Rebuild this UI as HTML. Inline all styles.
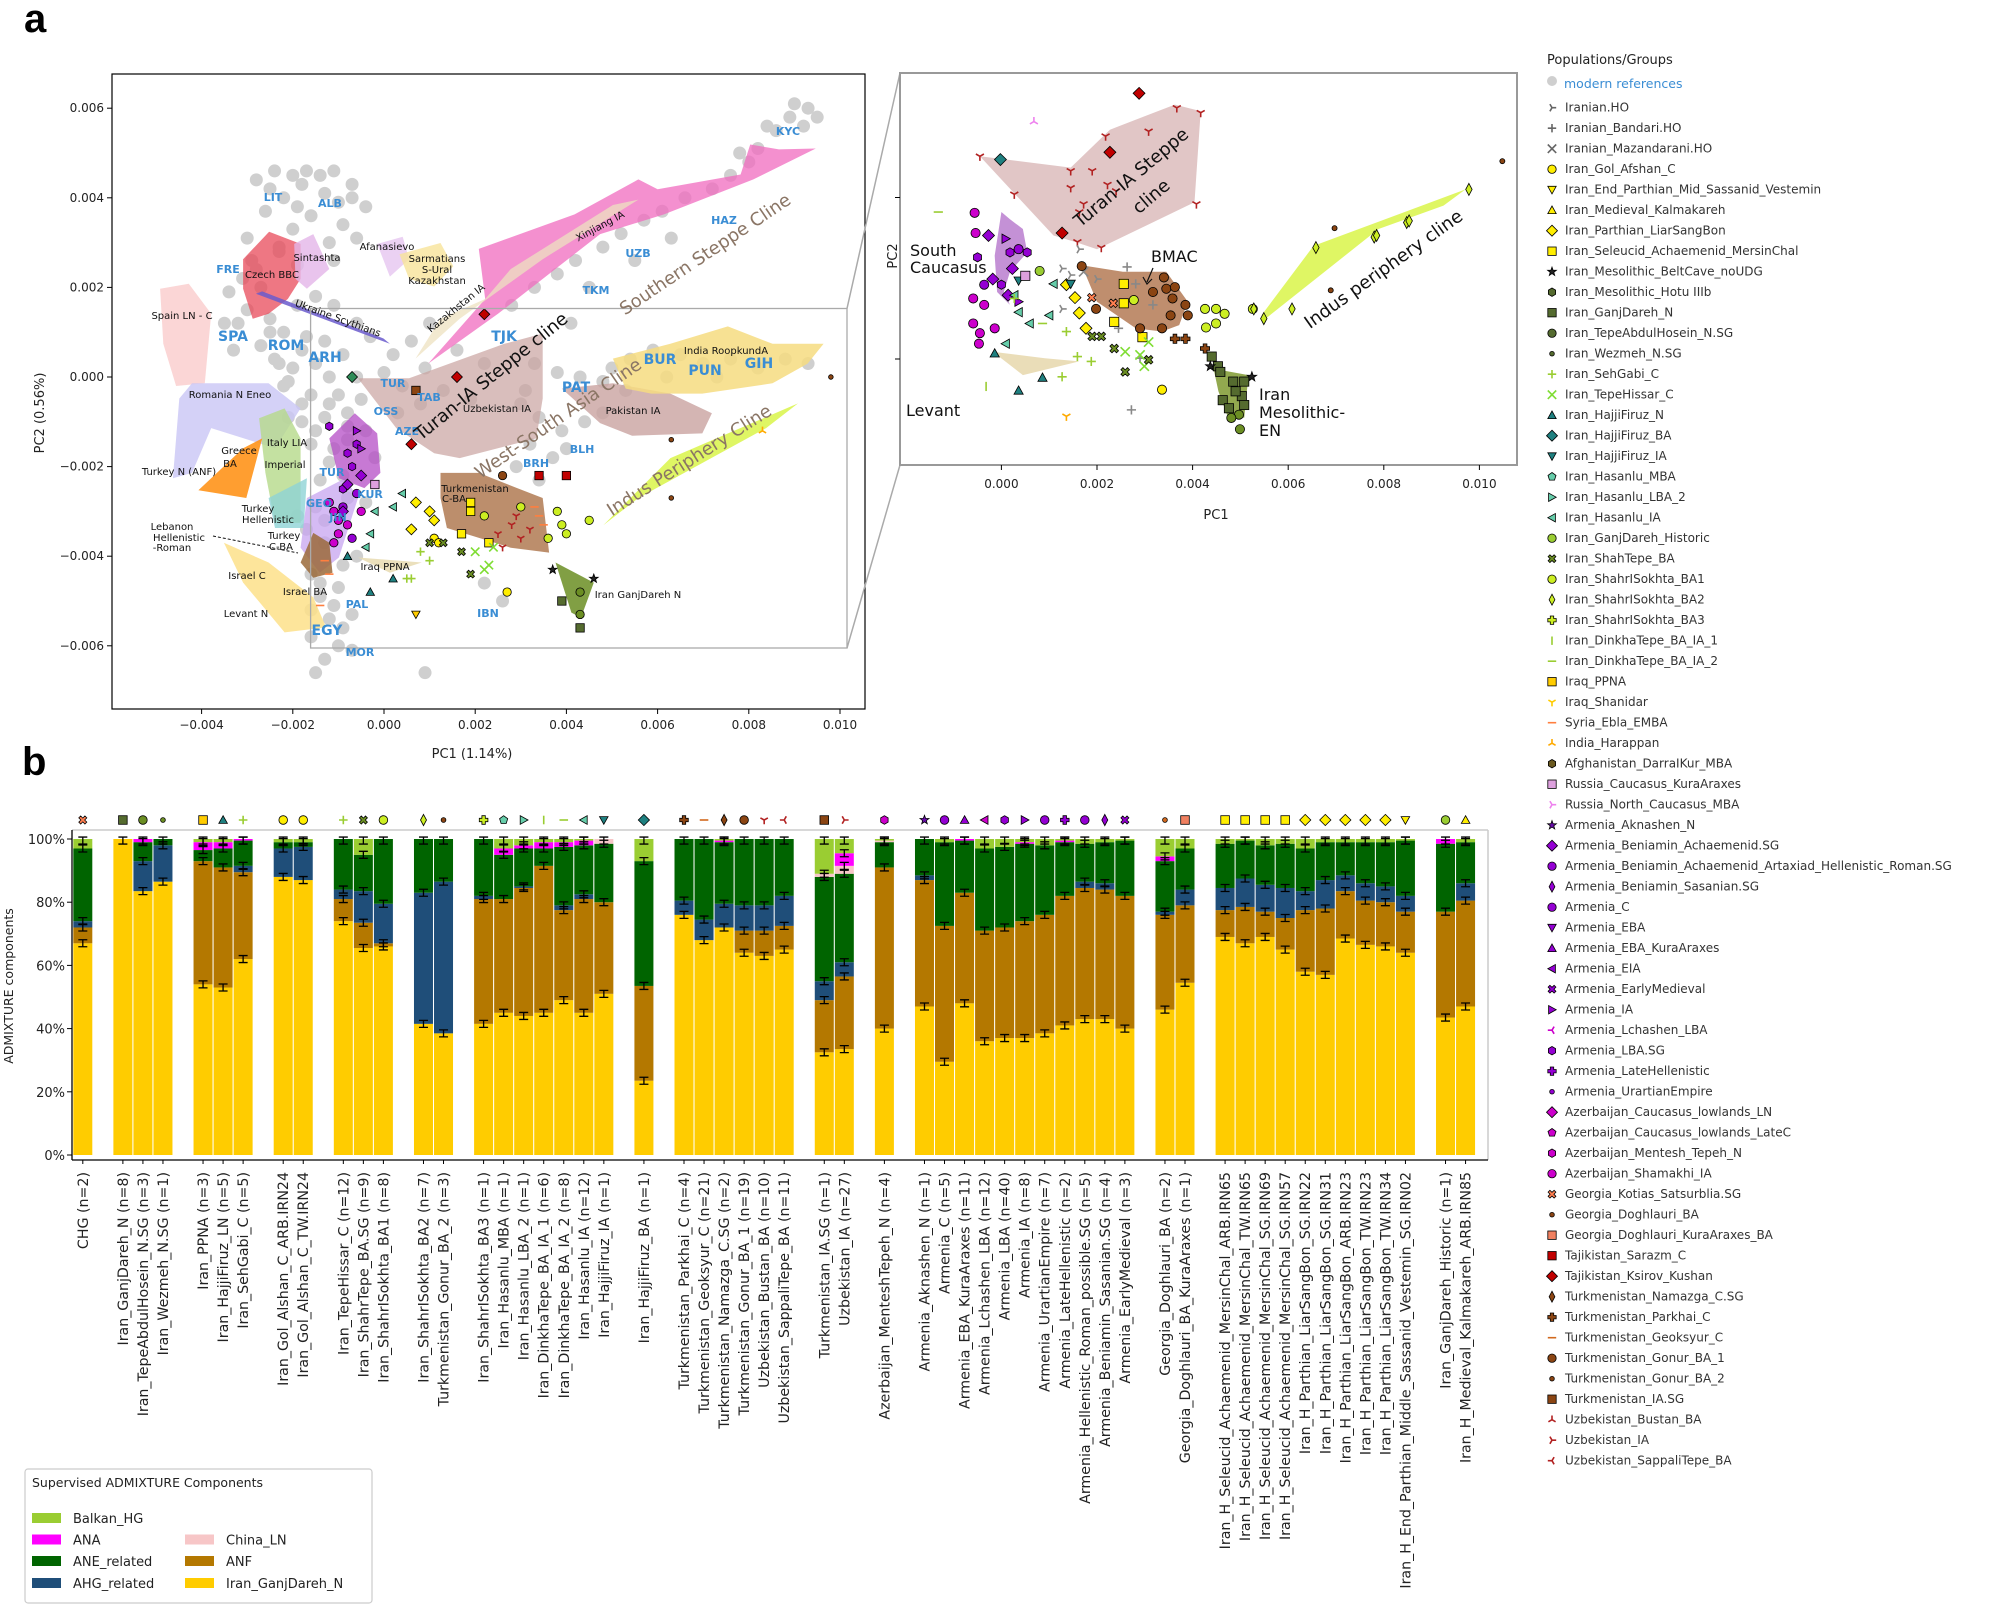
<!DOCTYPE html>
<html><head><meta charset="utf-8"><title>PCA and ADMIXTURE figure</title>
<style>
html,body{margin:0;padding:0;background:#fff;}
svg{display:block;font-family:"DejaVu Sans","Liberation Sans",sans-serif;}
</style></head>
<body>
<svg id="fig" width="2008" height="1607" viewBox="0 0 2008 1607" xmlns="http://www.w3.org/2000/svg">
<text x="24" y="32" font-size="40" font-weight="bold" font-family="Liberation Sans, sans-serif">a</text>
<text x="22" y="775" font-size="40" font-weight="bold" font-family="Liberation Sans, sans-serif">b</text>
<g id="pcaMain"></g>
<g id="pcaInset"></g>
<g id="legendRight"></g>
<g id="bars"></g>
<g id="legendBars"></g>
</svg>
<script>
// ===================== DATA =====================
const barLabels = ["CHG (n=2)","Iran_GanjDareh_N (n=8)","Iran_TepeAbdulHosein_N.SG (n=3)","Iran_Wezmeh_N.SG (n=1)","Iran_PPNA (n=3)","Iran_HajjiFiruz_LN (n=5)","Iran_SehGabi_C (n=5)","Iran_Gol_Alshan_C_ARB.IRN24","Iran_Gol_Alshan_C_TW.IRN24","Iran_TepeHissar_C (n=12)","Iran_ShahrTepe_BA.SG (n=9)","Iran_ShahrISokhta_BA1 (n=8)","Iran_ShahrISokhta_BA2 (n=7)","Turkmenistan_Gonur_BA_2 (n=3)","Iran_ShahrISokhta_BA3 (n=1)","Iran_Hasanlu_MBA (n=1)","Iran_Hasanlu_LBA_2 (n=1)","Iran_DinkhaTepe_BA_IA_1 (n=6)","Iran_DinkhaTepe_BA_IA_2 (n=8)","Iran_Hasanlu_IA (n=12)","Iran_HajjiFiruz_IA (n=1)","Iran_HajjiFiruz_BA (n=1)","Turkmenistan_Parkhai_C (n=4)","Turkmenistan_Geoksyur_C (n=21)","Turkmenistan_Namazga_C.SG (n=2)","Turkmenistan_Gonur_BA_1 (n=19)","Uzbekistan_Bustan_BA (n=10)","Uzbekistan_SappaliTepe_BA (n=11)","Turkmenistan_IA.SG (n=1)","Uzbekistan_IA (n=27)","Azerbaijan_MenteshTepeh_N (n=4)","Armenia_Aknashen_N (n=1)","Armenia_C (n=5)","Armenia_EBA_KuraAraxes (n=11)","Armenia_Lchashen_LBA (n=12)","Armenia_LBA (n=40)","Armenia_IA (n=8)","Armenia_UrartianEmpire (n=7)","Armenia_LateHellenistic (n=2)","Armenia_Hellenistic_Roman_possible.SG (n=5)","Armenia_Beniamin_Sasanian.SG (n=4)","Armenia_EarlyMedieval (n=3)","Georgia_Doghlauri_BA (n=2)","Georgia_Doghlauri_BA_KuraAraxes (n=1)","Iran_H_Seleucid_Achaemenid_MersinChal_ARB.IRN65","Iran_H_Seleucid_Achaemenid_MersinChal_TW.IRN65","Iran_H_Seleucid_Achaemenid_MersinChal_SG.IRN69","Iran_H_Seleucid_Achaemenid_MersinChal_SG.IRN57","Iran_H_Parthian_LiarSangBon_SG.IRN22","Iran_H_Parthian_LiarSangBon_SG.IRN31","Iran_H_Parthian_LiarSangBon_ARB.IRN23","Iran_H_Parthian_LiarSangBon_TW.IRN23","Iran_H_Parthian_LiarSangBon_TW.IRN34","Iran_H_End_Parthian_Middle_Sassanid_Vestemin_SG.IRN02","Iran_GanjDareh_Historic (n=1)","Iran_H_Medieval_Kalmakareh_ARB.IRN85"];
const groupSizes = [1,3,3,2,3,2,7,1,6,2,1,11,2,10,2];
const compGanj   = [67,100,83.5,86.5,54,53,62,88,87,74,65.5,66,41.5,38.5,41.5,45,44,45,49,45,51,23.5,76,68,72,64,63,65,32.5,33.5,40,47,29.5,48,36,37,37,38.5,41,43,43,40,46,54.5,69,67,69,65,58,57,68.5,66.5,66,64,43.5,47];
const compANF    = [5,0,0,0,39,38,27.5,0,0,7,8,1,0,0,39.5,36,40.5,46.5,28.5,36,29,30,0,0,0,7,8,7.5,16.5,23,51,40,43,35,35,35,37,37.5,41,41.5,41,42,30,24.5,8.5,11.5,8,10,19.5,21,15,14,14,13,33.5,33.5];
const compAHG    = [2,0,9.5,11.5,0,0,2,9,10.5,3,10,12.5,41.5,48,1,0,0.5,0,1.5,1.5,0,0,4.5,6.5,7.5,8,8,9.5,6,4.5,0,1.5,0,0,0,0,0,0,0,2,2,0,1,5,7,9,8.5,9.5,6,9,5,5.5,5,5,0,5.5];
const compANE    = [23,0,6,2,3.5,6,8,2,1.5,16,11.5,20.5,17,13.5,18,14,12,5.5,18.5,15.5,18.5,39.5,19.5,25.5,19.5,21,21,18,33,28,8,11.5,26.5,16.5,26,25.5,24.5,22,17,12,13,17.5,16,13,14,12,12.5,14,13.5,12,10.5,13,14,17.5,21.5,13];
const compChina  = [0,0,0,0,0,0,0,0,0,0,0,0,0,0,0,0,0,0,0,0,1.5,0,0,0,0,0,0,0,1,2.5,0.5,0,0,0,0,0,0,0,0,0,0,0,0,0,0,0,0,0,0,0,0,0,0,0,0,0];
const compANA    = [0,0,1,0,2.5,2,0.5,0,0,0,0,0,0,0,0,2,1,2,1.5,1.5,0,0,0,0,0.5,0,0,0,0,4,0,0,0,0.5,0,0,0.5,0,0.5,0,0,0,1.5,0,0,0,0,0,0,0,0,0,0,0,1.5,0];
const compBalkan = [3,0,0,0,1,1,0,1,1,0,5,0,0,0,0,3,2,1,1,0.5,0,7,0,0,0.5,0,0,0,11,4.5,0.5,0,1,0,3,2.5,1,2,0.5,1.5,1,0.5,5.5,3,1.5,0.5,2,1.5,3,1,1,1,1,0.5,0,1];
const barMarkerShape = ["X","s","o",".","s","^","+","o","o","+","X","o","d",".","P","p",">","|","_","<","v","D","P","_","d","o","1","3","s","4","h","*","o","^","<","h",">","o","P","o","d","X",".","s","s","s","s","s","D","D","D","D","D","v","o","^"];
const barMarkerColor = ["#ff7f50","#556b2f","#6b8e23","#6b8e23","#ffcc00","#1f8080","#9acd32","#ffee00","#ffee00","#9acd32","#6b8e23","#ccee22","#ccee22","#8b4513","#ccee22","#66cdaa","#66cdaa","#9acd32","#9acd32","#66cdaa","#1f8080","#1f8080","#8b4513","#d2691e","#8b4513","#8b4513","#b22222","#b22222","#8b4513","#b22222","#cc00cc","#6a0dad","#9400d3","#9400d3","#cc00cc","#9400d3","#9400d3","#9400d3","#9400d3","#9400d3","#9400d3","#9400d3","#d2691e","#f08060","#ffee00","#ffee00","#ffee00","#ffee00","#ffee00","#ffee00","#ffee00","#ffee00","#ffee00","#ffee00","#9acd32","#ffee00"];
const barTicks = [0,20,40,60,80,100];

const pcaXTicks = [-4,-2,0,2,4,6,8,10];
const pcaYTicks = [6,4,2,0,-2,-4,-6];
const modernPC1 = [-2.8,-2.5,-2.2,-1.8,-1.3,-1.0,-0.7,-2.6,-1.6,-0.9,-2.0,-1.2,-3.0,-2.9,-3.1,-2.7,-3.4,-3.0,-2.5,-2.2,-2.7,-2.4,-2.0,-1.8,-1.5,-1.2,-2.2,-1.6,-1.0,-1.3,-0.8,-0.5,-1.8,-1.6,-1.2,-0.8,-0.4,-0.2,-1.4,-0.9,-1.5,-1.7,-1.3,-0.9,-1.6,-1.4,-1.2,-1.6,-1.0,-1.3,-1.5,-0.7,-0.9,-1.1,0.9,0.2,0.6,1.0,0.4,0.9,1.6,2.2,0.8,1.3,-0.3,0.0,2.8,3.3,3.8,4.2,4.8,5.2,5.7,6.1,6.6,7.2,7.6,8.2,8.6,8.9,9.3,9.5,8.4,5.5,6.3,4.5,3.3,3.8,4.3,4.8,5.4,5.9,6.5,7.0,7.6,8.2,8.8,9.3,6.2,7.3,5.3,3.0,3.4,3.9,4.4,3.2,3.7,2.9,3.4,4.0,4.8,2.6,2.2,-3.5,-3.3,-2.3,-1.9,-2.1,-0.4,-0.6,-2.4,-2.0,-1.7,-1.4,-1.1,-0.7,-0.4,-2.3,-1.9,-1.1,-0.6,-1.9,-1.5,-1.1,-0.6,-1.7,-1.3,-0.9,-0.6,-1.8,-1.2,-0.8,-1.5,-1.1,-0.8,-1.3,-1.9,-2.5,-2.8,-3.2,-2.3,-1.4,-1.0,-0.7,-1.6,-2.1,7.8,8.0,9.0,9.2,4.1,5.0,3.1,0.3,1.9];
const modernPC2 = [4.4,4.2,4.0,4.3,4.1,3.9,4.3,3.7,3.6,3.4,3.3,3.0,3.1,2.6,2.2,2.0,1.9,1.5,1.3,1.0,0.7,0.4,0.2,0.6,0.3,0.0,-0.2,-0.4,-0.4,-0.9,-0.8,-0.5,-1.0,-1.5,-1.9,-1.4,-1.2,-1.8,-2.3,-2.2,-2.9,-3.4,-3.7,-4.2,-4.4,-4.9,-5.4,-5.8,-6.0,-6.3,-6.6,-6.1,-5.6,-5.1,-6.6,0.5,0.8,1.2,-0.2,0.2,0.6,0.3,-0.6,-0.3,0.9,0.1,1.6,2.0,2.3,2.6,2.9,3.2,3.5,3.7,4.0,4.2,4.5,5.1,5.5,5.8,6.0,5.8,5.6,2.6,3.1,2.0,0.3,0.1,0.0,-0.1,0.4,0.6,0.5,0.3,0.4,0.2,0.4,0.3,0.0,0.0,-0.3,-0.6,-0.9,-1.2,-1.0,-1.5,-1.8,-2.0,-2.3,-1.6,-0.8,-5.0,-4.6,1.2,0.6,2.9,3.8,-0.9,-2.8,-4.0,4.6,4.5,4.6,4.5,4.6,4.0,3.8,2.8,2.5,2.6,3.1,1.6,1.8,1.6,1.2,0.9,0.8,0.5,0.0,-0.6,-0.6,-1.1,-1.2,-1.6,-2.7,-3.2,-3.1,1.0,2.4,1.2,0.3,-4.6,-4.7,-5.3,-5.2,-0.1,5.0,4.8,6.1,5.6,1.2,0.2,-0.3,-0.8,-0.5];
const ancientPC1 = [-1.2,-1.1,-1.0,-0.9,-0.8,-1.0,-0.7,-1.1,-0.6,-0.5,-0.9,-0.7,-0.6,-0.8,-1.2,-0.8,-0.5,-0.9,-0.6,-0.5,0.4,0.2,-0.3,-0.2,-0.4,-0.8,0.2,-0.3,0.7,1.0,1.1,0.6,1.1,1.2,2.2,3.0,3.8,3.9,4.0,3.6,4.5,2.7,1.9,1.9,1.7,2.3,2.0,2.3,2.4,2.2,1.0,1.3,1.7,1.9,0.8,1.0,0.5,0.6,2.5,2.8,3.0,3.2,2.9,2.6,3.3,3.4,3.5,-1.3,-1.2,-1.4,3.4,4.0,2.2,1.6,0.6,-0.7,0.7,2.6,4.3,3.9,4.3,4.3,3.7,4.6,-0.2,9.8,6.3,6.3,8.3,0.7];
const ancientPC2 = [-2.8,-3.0,-3.2,-2.9,-3.3,-3.5,-3.6,-3.7,-2.6,-3.0,-2.5,-2.0,-1.5,-1.7,-1.1,-2.4,-2.2,-3.0,-1.2,-1.6,-2.6,-2.9,-3.5,-3.0,-3.8,-4.0,-4.5,-4.8,-2.8,-3.0,-3.2,-3.4,-3.6,-3.7,-3.1,-2.9,-3.0,-3.3,-3.5,-3.6,-3.2,-4.8,-3.0,-2.8,-3.5,-3.7,-3.9,-4.2,-3.8,-4.3,-3.7,-3.7,-3.9,-4.4,-3.9,-4.1,-4.5,-4.5,-3.5,-3.3,-3.6,-3.4,-3.1,-3.8,-2.9,-3.1,-3.3,-4.1,-4.4,-5.1,-2.2,-2.2,1.4,0.0,-1.5,0.0,-0.3,-2.2,-4.8,-5.0,-5.3,-5.6,-4.3,-4.5,-2.4,0.0,-1.4,-2.7,-1.2,-5.3];
const ancientShape = ["o","o","o","o","o","o","o","o","o","o","h","h","h","h","h","D","D","D",">",">","<","<","<","<","<","^","^","^","D","D","D","D","o","o","o","o","o","o","o","o","o","o","s","s","s","s","x","x","x","x","X","X","X","X","+","+","+","+","1","1","1","1","1","1","_","_","_","_","_","_","s","s","D","D","D","D","s","o","o","s","o","s","*","*","s",".",".",".","2","v"];
const ancientColor = ["#cc00cc","#cc00cc","#cc00cc","#9400d3","#cc00cc","#cc00cc","#9400d3","#cc00cc","#9400d3","#cc00cc","#9400d3","#9400d3","#9400d3","#9400d3","#9400d3","#9400d3","#9400d3","#9400d3","#9400d3","#9400d3","#66cdaa","#66cdaa","#66cdaa","#66cdaa","#66cdaa","#1f8080","#1f8080","#1f8080","#ffee00","#ffee00","#ffee00","#ffee00","#ffee00","#ffee00","#ccee22","#ccee22","#ccee22","#ccee22","#ccee22","#ccee22","#ccee22","#ffee00","#ffee00","#ffee00","#ffee00","#ffee00","#7fdd33","#7fdd33","#7fdd33","#7fdd33","#6b8e23","#6b8e23","#6b8e23","#6b8e23","#9acd32","#9acd32","#9acd32","#9acd32","#b22222","#b22222","#b22222","#b22222","#b22222","#b22222","#ff7f3f","#ff7f3f","#ff7f3f","#ff7f3f","#ff7f3f","#ff7f3f","#c00000","#c00000","#c00000","#c00000","#c00000","#2e8b57","#8b4513","#8b4513","#6b8e23","#556b2f","#6b8e23","#556b2f","#222","#222","#dda0dd","#8b4513","#8b4513","#8b4513","#ffaa00","#ffcc00"];

const insetXTicks = [0,2,4,6,8,10];
const insetYTicks = [0,-2];
const insetPC1 = [1.45,1.9,2.18,3.08,1.45,1.72,2.22,2.40,1.63,2.09,1.59,-0.45,0.27,3.67,4.17,4.08,2.88,2.27,1.27,-0.02,-0.56,-0.54,-0.50,-0.59,-0.45,-0.47,-0.14,-0.27,0.09,0.18,0.36,0.54,0.23,-0.18,-0.59,-0.36,0.14,0.36,0,-0.36,0.27,0.36,0.59,0.09,1.09,1.0,-0.14,0.86,0.36,0.36,1.63,1.27,1.45,1.72,2.0,2.63,2.81,3.17,1.27,2.9,2.72,2.45,1.36,1.54,1.63,1.77,2.56,2.56,2.36,2.95,4.26,4.49,4.67,4.28,4.49,5.26,3.36,2.77,1.68,1.98,3.4,3.45,3.58,3.54,3.85,3.9,3.36,2.9,3.17,3.63,3.63,3.85,4.26,4.4,4.53,4.58,4.85,5.08,5.03,5.08,4.63,4.76,4.9,4.99,4.97,4.81,5.24,4.37,6.58,7.8,7.85,8.48,8.53,9.78,6.08,5.49,5.28,2.59,2.99,2.9,3.08,1.9,2.09,2.36,2.59,3.08,1.36,1.59,1.88,1.27,0.27,10.48,6.97,6.89,1.36,-1.32,-0.32,0.86,0.5,0.8,0.68,1.89,2.34,1.45];
const insetPC2 = [0.33,0.33,0.76,0.82,0.12,-0.08,0.16,0.08,-0.18,-0.62,-0.55,0.51,0.04,1.11,1.05,-0.08,1.29,0.56,-0.44,0.47,-0.19,-0.44,-0.74,-1.56,-1.68,-1.81,-1.62,-0.47,-0.51,-0.68,-0.64,-0.68,-0.88,-1.01,-1.25,-1.33,-1.21,-1.29,-1.08,-1.08,-1.21,-1.42,-1.56,-1.81,-1.07,-1.46,-1.93,-2.23,-2.39,-1.03,-0.64,-0.88,-0.96,-0.92,-1.01,-0.86,-1.07,-1.33,-1.38,-1.99,-2.63,-1.62,-1.08,-1.24,-1.43,-1.62,-1.07,-1.31,-1.54,-1.73,-1.38,-1.38,-1.44,-1.61,-1.56,-1.38,-2.38,-1.27,-0.85,-1.38,-0.99,-1.13,-1.25,-1.46,-1.33,-1.46,-1.62,-1.62,-1.17,-1.11,-1.75,-1.75,-1.87,-1.97,-2.09,-2.16,-2.28,-2.28,-2.46,-2.57,-2.51,-2.61,-2.40,-2.87,-2.69,-2.73,-2.22,-2.09,-0.62,-0.49,-0.47,-0.31,-0.29,0.1,-1.38,-1.5,-1.38,-1.91,-2.09,-1.95,-1.79,-1.72,-1.72,-1.87,-2.16,-2.01,-1.66,-1.97,-2.03,-2.22,-1.25,0.45,-0.38,-1.15,-2.71,-0.18,-2.34,-1.56,-0.97,-0.91,0.94,-1.24,-1.31,-1.07];
const insetShape = ["1","1","1","1","1","1","1","1","1","1","1","1","1","1","1","1","D","D","D","D","o","o","h","o","o","o","o","D",">","h","o","h","D","D","o","o","D",">","h","o","<","<","<","<","<","<","^","^","^","v","4","4","4","x","4","+","+","+","4","+","+","+","D","D","D","D","s","s","s","s","o","o","o","o","o","o","o","o","o","o","o","o","o","o","o","o","o","o","o","o","P","P","P","s","s","s","s","s","s","s","s","s","s","o","o","o","*","*","d","d","d","d","d","d","d","d","d","x","x","x","x","X","X","X","X","X","+","+","+","+","+",".",".",".","1","_","|","_","s","o","2","X","X","v"];
const insetColor = ["#b22222","#b22222","#b22222","#b22222","#b22222","#b22222","#b22222","#b22222","#b22222","#b22222","#b22222","#b22222","#b22222","#b22222","#b22222","#b22222","#c00000","#c00000","#c00000","#1f8080","#cc00cc","#cc00cc","#9400d3","#cc00cc","#cc00cc","#cc00cc","#cc00cc","#9400d3","#9400d3","#9400d3","#9400d3","#9400d3","#9400d3","#9400d3","#cc00cc","#cc00cc","#9400d3","#9400d3","#9400d3","#9400d3","#66cdaa","#66cdaa","#66cdaa","#66cdaa","#66cdaa","#66cdaa","#1f8080","#1f8080","#1f8080","#1f8080","#888","#888","#888","#888","#888","#888","#888","#888","#888","#888","#888","#888","#ffee00","#ffee00","#ffee00","#ffee00","#ffee00","#ffee00","#ffee00","#ffee00","#ccee22","#ccee22","#ccee22","#ccee22","#ccee22","#ccee22","#ffee00","#ccee22","#8b4513","#8b4513","#8b4513","#8b4513","#8b4513","#8b4513","#8b4513","#8b4513","#8b4513","#8b4513","#8b4513","#8b4513","#8b4513","#8b4513","#8b4513","#556b2f","#556b2f","#556b2f","#556b2f","#556b2f","#556b2f","#556b2f","#556b2f","#556b2f","#556b2f","#6b8e23","#6b8e23","#6b8e23","#222","#222","#ccee22","#ccee22","#ccee22","#ccee22","#ccee22","#ccee22","#ccee22","#ccee22","#ccee22","#7fdd33","#7fdd33","#7fdd33","#7fdd33","#6b8e23","#6b8e23","#6b8e23","#6b8e23","#6b8e23","#9acd32","#9acd32","#9acd32","#9acd32","#9acd32","#8b4513","#8b4513","#8b4513","#ffaa00","#9acd32","#9acd32","#9acd32","#dda0dd","#9acd32","#ee82ee","#ff7f50","#ff7f50","#1f8080"];

const popNames = ["Iranian.HO","Iranian_Bandari.HO","Iranian_Mazandarani.HO","Iran_Gol_Afshan_C","Iran_End_Parthian_Mid_Sassanid_Vestemin","Iran_Medieval_Kalmakareh","Iran_Parthian_LiarSangBon","Iran_Seleucid_Achaemenid_MersinChal","Iran_Mesolithic_BeltCave_noUDG","Iran_Mesolithic_Hotu IIIb","Iran_GanjDareh_N","Iran_TepeAbdulHosein_N.SG","Iran_Wezmeh_N.SG","Iran_SehGabi_C","Iran_TepeHissar_C","Iran_HajjiFiruz_N","Iran_HajjiFiruz_BA","Iran_HajjiFiruz_IA","Iran_Hasanlu_MBA","Iran_Hasanlu_LBA_2","Iran_Hasanlu_IA","Iran_GanjDareh_Historic","Iran_ShahTepe_BA","Iran_ShahrISokhta_BA1","Iran_ShahrISokhta_BA2","Iran_ShahrISokhta_BA3","Iran_DinkhaTepe_BA_IA_1","Iran_DinkhaTepe_BA_IA_2","Iraq_PPNA","Iraq_Shanidar","Syria_Ebla_EMBA","India_Harappan","Afghanistan_DarraIKur_MBA","Russia_Caucasus_KuraAraxes","Russia_North_Caucasus_MBA","Armenia_Aknashen_N","Armenia_Beniamin_Achaemenid.SG","Armenia_Beniamin_Achaemenid_Artaxiad_Hellenistic_Roman.SG","Armenia_Beniamin_Sasanian.SG","Armenia_C","Armenia_EBA","Armenia_EBA_KuraAraxes","Armenia_EIA","Armenia_EarlyMedieval","Armenia_IA","Armenia_Lchashen_LBA","Armenia_LBA.SG","Armenia_LateHellenistic","Armenia_UrartianEmpire","Azerbaijan_Caucasus_lowlands_LN","Azerbaijan_Caucasus_lowlands_LateC","Azerbaijan_Mentesh_Tepeh_N","Azerbaijan_Shamakhi_IA","Georgia_Kotias_Satsurblia.SG","Georgia_Doghlauri_BA","Georgia_Doghlauri_KuraAraxes_BA","Tajikistan_Sarazm_C","Tajikistan_Ksirov_Kushan","Turkmenistan_Namazga_C.SG","Turkmenistan_Parkhai_C","Turkmenistan_Geoksyur_C","Turkmenistan_Gonur_BA_1","Turkmenistan_Gonur_BA_2","Turkmenistan_IA.SG","Uzbekistan_Bustan_BA","Uzbekistan_IA","Uzbekistan_SappaliTepe_BA"];
const popShape = ["4","+","x","o","v","^","D","s","*","h","s","o",".","+","x","^","D","v","p",">","<","o","X","o","d","P","|","_","s","1","_","2","h","s","4","*","D","o","d","o","v","^","<","X",">","3","h","P",".","D","p","h","o","X",".","s","s","D","d","P","_","o",".","s","2","4","3"];
const popColor = ["#666","#666","#666","#ffee00","#ffee00","#ffee00","#ffee00","#ffee00","#222","#556b2f","#556b2f","#556b2f","#556b2f","#9acd32","#7fdd33","#1f8080","#1f8080","#1f8080","#66cdaa","#66cdaa","#66cdaa","#9acd32","#6b8e23","#ccee22","#ccee22","#ccee22","#9acd32","#9acd32","#ffcc00","#ffcc00","#ff7f3f","#ffaa00","#6b5a20","#dda0dd","#ee82ee","#6a0dad","#9400d3","#9400d3","#9400d3","#9400d3","#9400d3","#9400d3","#9400d3","#9400d3","#9400d3","#cc00cc","#9400d3","#9400d3","#9400d3","#cc00cc","#cc00cc","#cc00cc","#cc00cc","#ff7f50","#8b4513","#f08060","#c00000","#c00000","#8b4513","#8b4513","#d2691e","#8b4513","#8b4513","#8b4513","#b22222","#b22222","#b22222"];

// ===================== HELPERS =====================
const NS = "http://www.w3.org/2000/svg";
function E(tag, attrs, parent){const el=document.createElementNS(NS,tag);for(const k in attrs)el.setAttribute(k,attrs[k]);if(parent)parent.appendChild(el);return el;}
function T(parent, x, y, str, attrs){const t=E("text",Object.assign({x:x,y:y},attrs||{}),parent);t.textContent=str;return t;}
function poly(pts){return pts.map(p=>p[0].toFixed(1)+","+p[1].toFixed(1)).join(" ");}
function marker(parent, shape, cx, cy, s, fill){
  const st={stroke:"#000","stroke-width":0.8,fill:fill};
  let el;
  const ln={stroke:fill,"stroke-width":1.6,fill:"none"};
  switch(shape){
    case "o": el=E("circle",Object.assign({cx:cx,cy:cy,r:s},st),parent);break;
    case ".": el=E("circle",Object.assign({cx:cx,cy:cy,r:s*0.55},st),parent);break;
    case "s": el=E("rect",Object.assign({x:cx-s,y:cy-s,width:2*s,height:2*s},st),parent);break;
    case "D": el=E("polygon",Object.assign({points:poly([[cx,cy-s*1.3],[cx+s*1.3,cy],[cx,cy+s*1.3],[cx-s*1.3,cy]])},st),parent);break;
    case "d": el=E("polygon",Object.assign({points:poly([[cx,cy-s*1.3],[cx+s*0.7,cy],[cx,cy+s*1.3],[cx-s*0.7,cy]])},st),parent);break;
    case "^": el=E("polygon",Object.assign({points:poly([[cx,cy-s],[cx+s,cy+s*0.8],[cx-s,cy+s*0.8]])},st),parent);break;
    case "v": el=E("polygon",Object.assign({points:poly([[cx,cy+s],[cx+s,cy-s*0.8],[cx-s,cy-s*0.8]])},st),parent);break;
    case "<": el=E("polygon",Object.assign({points:poly([[cx-s,cy],[cx+s*0.8,cy-s],[cx+s*0.8,cy+s]])},st),parent);break;
    case ">": el=E("polygon",Object.assign({points:poly([[cx+s,cy],[cx-s*0.8,cy-s],[cx-s*0.8,cy+s]])},st),parent);break;
    case "h": {const p=[];for(let i=0;i<6;i++){const a=Math.PI/6+i*Math.PI/3;p.push([cx+s*Math.cos(a),cy+s*Math.sin(a)]);}el=E("polygon",Object.assign({points:poly(p)},st),parent);break;}
    case "p": {const p=[];for(let i=0;i<5;i++){const a=-Math.PI/2+i*2*Math.PI/5;p.push([cx+s*Math.cos(a),cy+s*Math.sin(a)]);}el=E("polygon",Object.assign({points:poly(p)},st),parent);break;}
    case "*": {const p=[];for(let i=0;i<10;i++){const a=-Math.PI/2+i*Math.PI/5;const r=i%2?s*0.45:s*1.1;p.push([cx+r*Math.cos(a),cy+r*Math.sin(a)]);}el=E("polygon",Object.assign({points:poly(p)},st),parent);break;}
    case "P": {const a=s*0.4,b=s;el=E("polygon",Object.assign({points:poly([[cx-a,cy-b],[cx+a,cy-b],[cx+a,cy-a],[cx+b,cy-a],[cx+b,cy+a],[cx+a,cy+a],[cx+a,cy+b],[cx-a,cy+b],[cx-a,cy+a],[cx-b,cy+a],[cx-b,cy-a],[cx-a,cy-a]])},st),parent);break;}
    case "X": {const p=[];const r1=s*1.05,r2=s*0.45;for(let i=0;i<4;i++){const a=Math.PI/4+i*Math.PI/2;p.push([cx+r1*Math.cos(a-0.3),cy+r1*Math.sin(a-0.3)]);p.push([cx+r1*Math.cos(a+0.3),cy+r1*Math.sin(a+0.3)]);const b=a+Math.PI/4;p.push([cx+r2*Math.cos(b),cy+r2*Math.sin(b)]);}el=E("polygon",Object.assign({points:poly(p)},st),parent);break;}
    case "+": el=E("path",Object.assign({d:`M${cx-s},${cy}H${cx+s}M${cx},${cy-s}V${cy+s}`},ln),parent);break;
    case "x": el=E("path",Object.assign({d:`M${cx-s},${cy-s}L${cx+s},${cy+s}M${cx-s},${cy+s}L${cx+s},${cy-s}`},ln),parent);break;
    case "|": el=E("path",Object.assign({d:`M${cx},${cy-s}V${cy+s}`},ln),parent);break;
    case "_": el=E("path",Object.assign({d:`M${cx-s},${cy}H${cx+s}`},ln),parent);break;
    default: {const rot={"1":0,"2":180,"3":90,"4":270}[shape]||0;let d="";for(let i=0;i<3;i++){const a=(rot+90+i*120)*Math.PI/180;d+=`M${cx},${cy}L${(cx+s*Math.cos(a)).toFixed(1)},${(cy+s*Math.sin(a)).toFixed(1)}`;}el=E("path",Object.assign({d:d},ln),parent);}
  }
  return el;
}

// ===================== PANEL A: MAIN PCA =====================
const gA = document.getElementById("pcaMain");
const xA = v => 384 + v*45.6;
const yA = v => 377 - v*44.8;
const A = (a,b)=>[xA(a),yA(b)];
let el;
for(let i=0;i<modernPC1.length;i++){
  el=E("circle",{cx:xA(modernPC1[i]),cy:yA(modernPC2[i]),r:6.5,fill:"#cfcfcf"},gA);
  
  
}
const polysA = [
 ["steppe-xinjiang-polygon","#f06bbf",0.75,[[0.97,0.30],[2.22,1.74],[2.08,2.86],[4.18,3.63],[5.58,4.41],[6.0,4.19],[7.82,4.52],[8.03,5.19],[8.66,5.08],[9.47,5.1],[8.1,4.41],[6.14,3.63],[4.74,3.19],[2.5,1.41]]],
 ["kazakhstan-ia-polygon","#eee2c0",0.75,[[0.69,0.41],[1.24,1.3],[2.22,1.74],[2.78,2.41],[5.02,3.84],[5.58,3.96],[3.48,2.63],[1.66,1.3]]],
 ["spain-polygon","#f9c8c8",0.75,[[-4.91,1.97],[-4.28,2.08],[-3.79,1.41],[-3.93,-0.14],[-4.56,-0.2],[-4.84,0.74]]],
 ["czech-bbc-polygon","#e84a5a",0.75,[[-3.09,2.63],[-2.52,3.24],[-1.83,2.97],[-1.83,2.19],[-2.11,1.74],[-2.53,1.41],[-2.88,1.30],[-3.09,1.97]]],
 ["sintashta-polygon","#e4b5e8",0.8,[[-1.97,2.97],[-1.55,3.19],[-1.2,2.41],[-1.69,1.97],[-1.94,2.19]]],
 ["afanasievo-polygon","#e6c5f0",0.8,[[-0.15,2.97],[0.41,3.13],[0.55,2.63],[0.13,2.24]]],
 ["sarmatians-polygon","#f8e39a",0.8,[[0.34,2.74],[1.24,2.99],[1.52,2.47],[1.10,2.02],[0.55,2.19]]],
 ["ukraine-scythians-polygon","#6a5acd",0.85,[[-2.81,1.86],[0.13,0.74],[-0.01,0.86],[-2.67,1.91]]],
 ["romania-polygon","#c9c5f5",0.8,[[-4.49,-0.48],[-4.21,-0.14],[-2.53,-0.14],[-1.83,-0.7],[-2.39,-1.59],[-3.79,-1.14],[-4.21,-2.14],[-4.63,-2.26]]],
 ["italy-lia-polygon","#b5d98a",0.8,[[-2.74,-0.92],[-2.18,-0.7],[-1.83,-1.37],[-1.83,-3.26],[-2.39,-3.26],[-2.6,-2.14]]],
 ["turkey-n-polygon","#ff9419",0.9,[[-4.07,-2.53],[-3.09,-1.59],[-2.67,-1.37],[-3.02,-2.7]]],
 ["turkey-hellenistic-polygon","#8fd3d6",0.8,[[-2.53,-2.7],[-1.69,-2.26],[-1.76,-3.37],[-2.39,-3.37]]],
 ["armenia-purple-polygon","#c7a4f0",0.75,[[-1.69,-2.7],[-0.85,-2.26],[-0.57,-2.7],[-0.99,-4.03],[-1.41,-4.37],[-1.83,-3.81]]],
 ["armenia-magenta-polygon","#b44cc6",0.75,[[-1.2,-1.37],[-0.64,-0.81],[-0.15,-1.26],[-0.08,-2.14],[-0.43,-2.48],[-0.99,-2.26]]],
 ["israel-polygon","#fde08a",0.85,[[-3.51,-3.7],[-2.53,-4.14],[-1.55,-4.92],[-1.27,-5.59],[-2.18,-5.7],[-3.09,-4.59]]],
 ["lebanon-polygon","#9b6a3a",0.85,[[-1.83,-4.14],[-1.55,-3.48],[-1.2,-3.7],[-1.13,-4.37],[-1.55,-4.48]]],
 ["turan-steppe-polygon","#c9a3a0",0.7,[[-0.57,-0.03],[0.55,-0.03],[2.64,0.74],[3.48,0.97],[3.48,-0.48],[3.34,-1.37],[1.66,-1.81],[1.1,-1.7],[0.27,-1.14]]],
 ["pakistan-polygon","#c9a3a0",0.8,[[3.9,-0.26],[5.02,-0.14],[6.28,-0.37],[7.19,-0.81],[6.98,-1.26],[5.44,-1.31],[4.74,-1.03]]],
 ["india-polygon","#f6dc80",0.85,[[5.02,0.41],[6.28,0.74],[7.54,1.13],[8.52,0.74],[9.64,0.74],[9.29,0.3],[8.52,-0.14],[6.98,-0.37],[5.86,-0.37],[5.3,-0.26]]],
 ["indus-periphery-polygon","#dcf553",0.9,[[4.81,-3.31],[6.28,-1.81],[9.08,-0.59],[8.38,-1.14],[5.58,-2.7],[5.02,-3.14]]],
 ["turkmenistan-c-ba-polygon","#b07a52",0.85,[[1.24,-2.14],[2.08,-2.14],[2.92,-2.48],[3.48,-2.7],[3.62,-3.92],[2.78,-3.81],[1.38,-3.37],[1.24,-2.7]]],
 ["iraq-ppna-polygon","#e8dbb0",0.85,[[-0.57,-4.03],[0.83,-4.14],[0.13,-4.37]]],
 ["ganjdareh-polygon","#6b8e23",0.85,[[3.76,-4.14],[4.6,-4.59],[4.32,-5.37],[4.11,-5.26]]]
];
for(const p of polysA){
  el=E("polygon",{points:poly(p[3].map(q=>A(q[0],q[1]))),fill:p[1],"fill-opacity":p[2]},gA);
  
  
}
for(let i=0;i<ancientPC1.length;i++){
  el=marker(gA,ancientShape[i],xA(ancientPC1[i]),yA(ancientPC2[i]),4.2,ancientColor[i]);
  
  
}
el=E("rect",{x:112,y:74,width:753,height:635,fill:"none",stroke:"#000","stroke-width":1.2},gA);


el=E("rect",{x:310.6,y:308.5,width:536.4,height:339.5,fill:"none",stroke:"#aaa","stroke-width":1.3},gA);


el=E("path",{d:"M847,308.5L900,73M847,648L900,465",stroke:"#aaa","stroke-width":1.5,fill:"none"},gA);


for(const t of pcaXTicks){
  const x=xA(t);
  E("line",{x1:x,y1:709,x2:x,y2:714,stroke:"#000"},gA);
  el=T(gA,x,729,(t<0?"−":"")+(Math.abs(t)/1000).toFixed(3),{"font-size":12,"text-anchor":"middle",fill:"#222"});
  
  
}
for(const t of pcaYTicks){
  const y=yA(t);
  E("line",{x1:107,y1:y,x2:112,y2:y,stroke:"#000"},gA);
  el=T(gA,104,y+4,(t<0?"−":"")+(Math.abs(t)/1000).toFixed(3),{"font-size":12,"text-anchor":"end",fill:"#222"});
  
  
}
el=T(gA,472,758,"PC1 (1.14%)",{"font-size":13,"text-anchor":"middle",fill:"#222"});


el=T(gA,0,0,"PC2 (0.56%)",{"font-size":13,"text-anchor":"middle",fill:"#222",transform:"translate(44,413) rotate(-90)"});


const blueLabels=[["LIT",273,197],["ALB",330,203],["FRE",228,269],["SPA",233,337],["ROM",286,346],["ARH",325,358],["TUR",393,383],["TAB",429,397],["OSS",386,411],["AZE",407,431],["TJK",504,337],["PAT",576,388],["BUR",660,360],["PUN",705,371],["GIH",759,364],["BLH",582,449],["BRH",536,463],["TKM",596,290],["UZB",638,253],["HAZ",724,220],["KYC",788,131],["TUR",332,472],["GEO",319,503],["JIN",338,517],["KUR",370,494],["PAL",357,604],["EGY",327,631],["MOR",360,652],["IBN",488,613]];
for(const b of blueLabels){
  const big=["TJK","PUN","GIH","BUR","PAT","EGY","SPA","ROM","ARH"].includes(b[0]);
  el=T(gA,b[1],b[2]+4,b[0],{"font-size":big?14:11,"font-weight":"bold","text-anchor":"middle",fill:"#3a8dd4"});
  
  
}
const blackLabels=[["Sintashta",317,257],["Czech BBC",272,274],["Spain LN - C",182,315],["Afanasievo",387,246],["Sarmatians",437,258],["S-Ural",437,269],["Kazakhstan",437,280],["Romania N Eneo",230,394],["Italy LIA",287,442],["Greece",239,450],["BA",230,463],["Imperial",285,464],["Turkey N (ANF)",179,471],["Turkey",258,508],["Hellenistic",268,519],["Lebanon",172,526],["Hellenistic",179,537],["-Roman",172,547],["Turkey",284,535],["C-BA",281,546],["Israel C",247,575],["Israel BA",305,591],["Levant N",246,613],["Iraq PPNA",385,566],["Iran GanjDareh N",638,594],["Turkmenistan",475,488],["C-BA",454,498],["Uzbekistan IA",497,408],["Pakistan IA",633,410],["India RoopkundA",726,350]];
for(const b of blackLabels){
  el=T(gA,b[1],b[2]+4,b[0],{"font-size":10,"text-anchor":"middle",fill:"#111"});
  
  
}
const rotLabels=[["Ukraine Scythians",338,318,20,10,"#111"],["Kazakhstan IA",456,308,-39,10,"#111"],["Xinjiang IA",600,226,-28,10,"#111"],["Southern Steppe Cline",705,254,-34,18,"#8a7565"],["Turan-IA Steppe cline",491,376,-39,18,"#111"],["West-South Asia Cline",558,418,-34.5,18,"#8a7565"],["Indus Periphery Cline",689,460,-32.5,18,"#8a7565"]];
for(const r of rotLabels){
  el=T(gA,0,0,r[0],{"font-size":r[4],"text-anchor":"middle",fill:r[5],transform:`translate(${r[1]},${r[2]}) rotate(${r[3]})`,dy:r[4]*0.35});
  
  
}
E("path",{d:"M213,536L298,553",stroke:"#111","stroke-dasharray":"3,2",fill:"none"},gA);

// ===================== PANEL A: INSET =====================
const gI = document.getElementById("pcaInset");
const xI = v => 1001.4 + v*47.8;
const yI = v => 197.5 - v*80.75;
const I = (a,b)=>[xI(a),yI(b)];
const polysI=[
 ["inset-turan-steppe-polygon","#dcbcbc",0.85,[[-0.45,0.51],[1.45,0.37],[2.27,0.84],[3.63,1.15],[4.17,1.07],[4.04,-0.06],[2.0,-0.64],[1.54,-0.55],[1.09,-0.47]]],
 ["inset-south-caucasus-polygon","#b06cc8",0.75,[[0,-0.18],[0.18,-0.27],[0.45,-0.39],[0.54,-0.68],[0.18,-0.92],[0.05,-1.17],[0.18,-1.33],[-0.09,-1.17],[-0.14,-0.72]]],
 ["inset-bmac-polygon","#b47a55",0.85,[[1.68,-0.84],[2.54,-0.92],[3.45,-0.92],[3.9,-1.29],[3.72,-1.58],[3.36,-1.66],[2.81,-1.62],[2.0,-1.29]]],
 ["inset-indus-periphery-polygon","#dcf553",0.9,[[5.44,-1.46],[6.53,-0.6],[9.71,0.1],[9.25,-0.1],[7.89,-0.39],[5.53,-1.5]]],
 ["inset-levant-polygon","#e8d9b0",0.9,[[-0.18,-1.91],[0.45,-2.2],[1.63,-2.03],[0.91,-1.99]]],
 ["inset-iran-mesolithic-polygon","#7f9a30",0.85,[[4.44,-2.12],[5.17,-2.2],[5.08,-2.73],[4.72,-2.69],[4.54,-2.4]]]
];
for(const p of polysI){
  el=E("polygon",{points:poly(p[3].map(q=>I(q[0],q[1]))),fill:p[1],"fill-opacity":p[2]},gI);
  
  
}
for(let i=0;i<insetPC1.length;i++){
  el=marker(gI,insetShape[i],xI(insetPC1[i]),yI(insetPC2[i]),4.6,insetColor[i]);
  
  
}
el=E("rect",{x:900,y:73,width:617,height:392,fill:"none",stroke:"#999","stroke-width":2},gI);


for(const t of insetXTicks){
  const x=xI(t);
  E("line",{x1:x,y1:465,x2:x,y2:470,stroke:"#000"},gI);
  el=T(gI,x,488,(t/1000).toFixed(3),{"font-size":12,"text-anchor":"middle",fill:"#222"});
  
  
}
for(const t of insetYTicks){
  const y=yI(t);
  E("line",{x1:895,y1:y,x2:900,y2:y,stroke:"#000"},gI);
}
el=T(gI,1216,519,"PC1",{"font-size":13,"text-anchor":"middle",fill:"#222"});


el=T(gI,0,0,"PC2",{"font-size":13,"text-anchor":"middle",fill:"#222",transform:"translate(897,256) rotate(-90)"});


const insetTexts=[["South",910,256],["Caucasus",910,273],["Levant",906,416],["BMAC",1151,262],["Iran",1259,400],["Mesolithic-",1259,418],["EN",1259,436]];
for(const t of insetTexts){
  el=T(gI,t[1],t[2],t[0],{"font-size":16,fill:"#111"});
  
  
}
E("path",{d:"M1153,268L1147,282M1143,277L1147,284L1152,279",stroke:"#111","stroke-width":1.2,fill:"none"},gI);
el=T(gI,0,0,"Turan-IA Steppe",{"font-size":18,"text-anchor":"middle",fill:"#111",transform:"translate(1135,182) rotate(-40)"});


el=T(gI,0,0,"cline",{"font-size":18,"text-anchor":"middle",fill:"#111",transform:"translate(1155,201) rotate(-40)"});


el=T(gI,0,0,"Indus periphery cline",{"font-size":18,"text-anchor":"middle",fill:"#111",transform:"translate(1387,274) rotate(-35.6)"});



// ===================== RIGHT LEGEND =====================
const gL = document.getElementById("legendRight");
el=T(gL,1547,64,"Populations/Groups",{"font-size":13,fill:"#222"});


E("circle",{cx:1552,cy:81,r:5,fill:"#cfcfcf"},gL);
el=T(gL,1564,88,"modern references",{"font-size":12.5,fill:"#3a8dd4"});


for(let i=0;i<popNames.length;i++){
  const y=111.7+i*20.5;
  marker(gL,popShape[i],1552,y-4,4.2,popColor[i]);
  el=T(gL,1565,y,popNames[i],{"font-size":12,fill:"#333"});
  
  
}

// ===================== PANEL B: BARS =====================
const gB = document.getElementById("bars");
const yB = p => 1155 - p*3.16;
const slots=[];{let s=0;for(const g of groupSizes){for(let k=0;k<g;k++)slots.push(s++);s++;}}
const xB = i => 73.3 + slots[i]*20.04;
const comps=[compGanj,compANF,compAHG,compANE,compChina,compANA,compBalkan];
const compColors=["#ffcc00","#b47800","#1f4e79","#006400","#f7c6c7","#ff00ff","#9acd32"];
const compNames=["iran-ganjdareh-n","anf","ahg-related","ane-related","china-ln","ana","balkan-hg"];
E("line",{x1:72,y1:830,x2:1488,y2:830,stroke:"#ccc","stroke-width":1.5},gB);
E("line",{x1:1488,y1:830,x2:1488,y2:1160,stroke:"#ccc","stroke-width":1.5},gB);
for(let i=0;i<barLabels.length;i++){
  let cum=0;const x=xB(i);
  for(let c=0;c<comps.length;c++){
    const v=comps[c][i];if(v<=0)continue;
    el=E("rect",{x:x,y:yB(cum+v),width:19,height:v*3.16,fill:compColors[c]},gB);
    
    
    cum+=v;
  }
  cum=0;
  for(let c=0;c<comps.length;c++){
    const v=comps[c][i];if(v<=0)continue;cum+=v;
    const yy=yB(Math.min(cum,99.5));
    if(cum>100.5)continue;
    E("path",{d:`M${x+5},${yy-3.5}H${x+14}M${x+5},${yy+3.5}H${x+14}M${x+9.5},${yy-3.5}V${yy+3.5}`,stroke:"#000","stroke-width":1.3,fill:"none"},gB);
  }
  el=marker(gB,barMarkerShape[i],x+9.5,820,4.3,barMarkerColor[i]);
  
  
  E("line",{x1:x+9.5,y1:1160,x2:x+9.5,y2:1164,stroke:"#000"},gB);
  el=T(gB,0,0,barLabels[i],{"font-size":14.2,"text-anchor":"end",fill:"#222",transform:`translate(${x+14.5},1172) rotate(-90)`});
  
  
}
E("line",{x1:72,y1:830,x2:72,y2:1160,stroke:"#000","stroke-width":1.3},gB);
E("line",{x1:72,y1:1160,x2:1488,y2:1160,stroke:"#000","stroke-width":1.3},gB);
for(const t of barTicks){
  const y=yB(t);
  E("line",{x1:67,y1:y,x2:72,y2:y,stroke:"#000"},gB);
  el=T(gB,65,y+5,t+"%",{"font-size":13,"text-anchor":"end",fill:"#222"});
  
  
}
el=T(gB,0,0,"ADMIXTURE components",{"font-size":12.5,"text-anchor":"middle",fill:"#222",transform:"translate(13,986) rotate(-90)"});



// ===================== BAR LEGEND =====================
const gLB = document.getElementById("legendBars");
el=E("rect",{x:25,y:1469,width:347,height:134,rx:3,fill:"#fff",stroke:"#ccc","stroke-width":1.2},gLB);


el=T(gLB,32,1487,"Supervised ADMIXTURE Components",{"font-size":12.5,fill:"#222"});


const legItems=[["Balkan_HG",6,32,1518],["ANA",5,32,1539.5],["ANE_related",3,32,1561],["AHG_related",2,32,1583],["China_LN",4,185,1539.5],["ANF",1,185,1561],["Iran_GanjDareh_N",0,185,1583]];
for(const it of legItems){
  E("rect",{x:it[2],y:it[3]-5,width:29,height:10,fill:compColors[it[1]]},gLB);
  el=T(gLB,it[2]+41,it[3]+5,it[0],{"font-size":13,fill:"#222"});
  
  
}
</script>
</body></html>
